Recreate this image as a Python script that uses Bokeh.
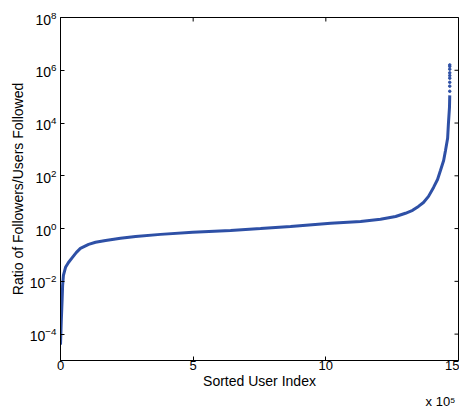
import math
from bokeh.plotting import figure
from bokeh.models import FixedTicker, CustomJSTickFormatter, Range1d, Title
from bokeh.embed import file_html
from bokeh.resources import INLINE

# Sorted user index (x 10^5) and ratio of followers / users followed
user_index_e5 = [0.0, 0.03, 0.06, 0.08, 0.11, 0.19, 0.30, 0.45, 0.60, 0.75,
                 1.06, 1.32, 1.70, 2.26, 2.83, 3.77, 4.98, 6.41, 7.54, 8.67,
                 10.18, 11.31, 12.06, 12.63, 13.0, 13.27, 13.49, 13.68, 13.87,
                 14.06, 14.21, 14.32, 14.44, 14.51, 14.59, 14.62, 14.66, 14.67]
ratio = [4.0e-5, 3.2e-4, 1.9e-3, 7.1e-3, 0.017, 0.034, 0.052, 0.081, 0.126, 0.178,
         0.251, 0.302, 0.355, 0.427, 0.501, 0.603, 0.724, 0.851, 1.0, 1.20,
         1.58, 1.86, 2.24, 2.88, 3.80, 4.90, 6.92, 9.77, 16.6,
         36.3, 72.4, 158.0, 380.0, 912.0, 2630.0, 9550.0, 38900.0, 112000.0]
# sparse outliers at the top end
outlier_index_e5 = [14.67] * 9
outlier_ratio = [1.6e5, 2.5e5, 3.5e5, 5e5, 6.3e5, 8e5, 1.1e6, 1.4e6, 1.6e6]

y_ticks = [1e-4, 1e-2, 1e0, 1e2, 1e4, 1e6, 1e8]
x_ticks_e5 = [0, 5, 10, 15]

FONT = "Liberation Sans"
BLUE = "#2e50a6"
X_MAX = 15e5
Y_MIN, Y_MAX = 1e-5, 1e8

xs = [v * 1e5 for v in user_index_e5]
ox = [v * 1e5 for v in outlier_index_e5]
x_ticks = [v * 1e5 for v in x_ticks_e5]

p = figure(width=459, height=408, output_backend="svg", toolbar_location=None,
           y_axis_type="log", x_axis_type="linear",
           x_range=Range1d(0, X_MAX), y_range=Range1d(Y_MIN, Y_MAX),
           min_border_left=60, min_border_right=1, min_border_top=17,
           min_border_bottom=48)

p.line(xs, ratio, line_color=BLUE, line_width=3)
p.scatter(ox, outlier_ratio, size=2.5, color=BLUE)

# mirrored inward ticks on the right and top edges of the box
p.scatter([X_MAX] * len(y_ticks), y_ticks, marker="dash", size=8,
          line_color="black", line_width=1)
p.scatter(x_ticks, [Y_MAX] * len(x_ticks), marker="dash", size=8,
          angle=math.pi / 2, line_color="black", line_width=1)

p.grid.visible = False
p.outline_line_color = "black"
p.outline_line_width = 1
p.background_fill_color = "white"
p.border_fill_color = "white"

p.xaxis.ticker = FixedTicker(ticks=x_ticks, minor_ticks=[])
p.xaxis.formatter = CustomJSTickFormatter(code="return (tick/1e5).toFixed(0);")
p.xaxis.axis_label = "Sorted User Index"
p.yaxis.ticker = FixedTicker(ticks=y_ticks, minor_ticks=[])
p.yaxis.axis_label = "Ratio of Followers/Users Followed"

for ax in list(p.xaxis) + list(p.yaxis):
    ax.axis_line_color = "black"
    ax.major_tick_in = 4
    ax.major_tick_out = 0
    ax.minor_tick_in = 0
    ax.minor_tick_out = 0
    ax.major_tick_line_color = "black"
    ax.major_label_text_font = FONT
    ax.major_label_text_font_size = "14px"
    ax.major_label_text_color = "black"
    ax.axis_label_text_font = FONT
    ax.axis_label_text_font_size = "14px"
    ax.axis_label_text_font_style = "normal"
    ax.axis_label_text_color = "black"

p.xaxis.major_label_standoff = 0
p.xaxis.axis_label_standoff = 0
p.xaxis.major_label_text_font_size = "13px"
p.yaxis.major_label_standoff = 4
p.yaxis.axis_label_standoff = 1

p.add_layout(Title(text="x 10\u2075", align="right", standoff=0, offset=3,
                   text_font=FONT, text_font_size="13px",
                   text_font_style="normal", text_color="black"), "below")

open("out.html", "w").write(file_html(p, INLINE))
